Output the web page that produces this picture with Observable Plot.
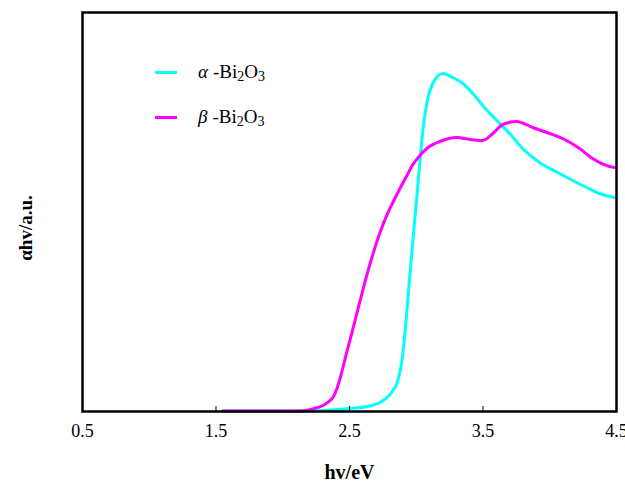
<!DOCTYPE html>
<html>
<head>
<meta charset="utf-8">
<script src="https://cdn.jsdelivr.net/npm/d3@7"></script>
<script src="https://cdn.jsdelivr.net/npm/@observablehq/plot@0.6"></script>
<style>
  html, body { margin: 0; padding: 0; background: #fff; }
  #wrap { position: relative; width: 625px; height: 483px; overflow: hidden; font-family: "Liberation Serif", "Times New Roman", Times, serif; }
  #legend { position: absolute; left: 155px; top: 61px; font-size: 19px; color: #000; }
  .item { position: absolute; white-space: nowrap; display: flex; align-items: center; }
  .sw { display: inline-block; width: 22px; height: 3px; margin-right: 21px; }
  .item i { margin-right: 5px; }
  sub { font-size: 14px; position: relative; top: 3px; vertical-align: baseline; line-height: 0; }
  #ytitle { position: absolute; left: 26px; top: 228px; transform: translate(-50%, -50%) rotate(-90deg); font-size: 19px; font-weight: bold; white-space: nowrap; color: #000; }
</style>
</head>
<body>
<div id="wrap">
  <div id="chart"></div>
  <div id="legend"></div>
  <div id="ytitle"></div>
</div>
<script>
// photon energy (eV) and relative absorption for alpha-Bi2O3
const alphaE = [1.55, 2.0, 2.3, 2.5, 2.63, 2.728, 2.825, 2.863, 2.893, 2.915, 2.937, 2.967, 3.005, 3.027, 3.05, 3.087, 3.124, 3.199, 3.274, 3.349, 3.423, 3.498, 3.603, 3.70, 3.797, 3.924, 4.074, 4.171, 4.276, 4.373, 4.485];
const alphaA = [0.001, 0.001, 0.0025, 0.0075, 0.0125, 0.0226, 0.0526, 0.0777, 0.1278, 0.1955, 0.28, 0.40, 0.54, 0.625, 0.705, 0.785, 0.822, 0.8471, 0.837, 0.822, 0.797, 0.767, 0.7293, 0.6967, 0.6591, 0.624, 0.5965, 0.579, 0.5614, 0.5464, 0.5363];
// beta-Bi2O3
const betaE = [1.55, 2.0, 2.15, 2.227, 2.302, 2.339, 2.377, 2.406, 2.429, 2.481, 2.526, 2.578, 2.631, 2.676, 2.728, 2.78, 2.825, 2.878, 2.93, 2.975, 3.027, 3.079, 3.177, 3.304, 3.401, 3.498, 3.573, 3.648, 3.752, 3.872, 3.999, 4.126, 4.223, 4.32, 4.425, 4.485];
const betaA = [0.001, 0.001, 0.002, 0.0068, 0.015, 0.0233, 0.0358, 0.0576, 0.0827, 0.1504, 0.208, 0.2757, 0.3434, 0.395, 0.448, 0.492, 0.5238, 0.5589, 0.5915, 0.619, 0.6416, 0.6591, 0.6767, 0.6867, 0.6817, 0.6792, 0.6967, 0.7193, 0.7268, 0.7118, 0.6967, 0.6792, 0.6591, 0.6341, 0.6165, 0.6115];

const seriesNames = ["α", "β"];
const seriesColors = ["#00FFFF", "#FF00FF"];
const xTicks = [0.5, 1.5, 2.5, 3.5, 4.5];
const innerTicks = [1.5, 2.5, 3.5];
const xTitle = "hv/eV";
const yTitle = "αhv/a.u.";

const data = [
  ...alphaE.map((e, i) => ({e, a: alphaA[i], s: seriesNames[0]})),
  ...betaE.map((e, i) => ({e, a: betaA[i], s: seriesNames[1]}))
];

const font = "'Liberation Serif', 'Times New Roman', Times, serif";

const chart = Plot.plot({
  width: 625,
  height: 483,
  marginLeft: 82,
  marginRight: 9,
  marginTop: 12,
  marginBottom: 72,
  style: {fontFamily: font, background: "#fff", color: "#000", overflow: "visible"},
  x: {domain: [0.5, 4.5]},
  y: {domain: [0, 1]},
  color: {domain: seriesNames, range: seriesColors},
  marks: [
    Plot.line(data, {x: "e", y: "a", z: "s", stroke: "s", strokeWidth: 3, curve: "monotone-x"}),
    Plot.axisX({ticks: xTicks, tickSize: 0, tickPadding: 13, fontSize: 18, label: null, tickFormat: d3.format(".1f")}),
    Plot.axisX({ticks: innerTicks, tickSize: -5, tickFormat: () => "", label: null}),
    Plot.axisY({ticks: [], label: null}),
    Plot.text([xTitle], {text: d => d, frameAnchor: "bottom", dy: 61, fontSize: 20, fontWeight: "bold", lineAnchor: "middle"}),
    Plot.frame({stroke: "#000", strokeWidth: 2.5})
  ]
});
document.getElementById("chart").appendChild(chart);

document.getElementById("ytitle").textContent = yTitle;

const legend = document.getElementById("legend");
seriesNames.forEach((n, i) => {
  const div = document.createElement("div");
  div.className = "item";
  div.style.top = (i * 45) + "px";
  div.innerHTML = `<span class="sw" style="background:${seriesColors[i]}"></span><span><i>${n}</i>-Bi<sub>2</sub>O<sub>3</sub></span>`;
  legend.appendChild(div);
});
</script>
</body>
</html>
